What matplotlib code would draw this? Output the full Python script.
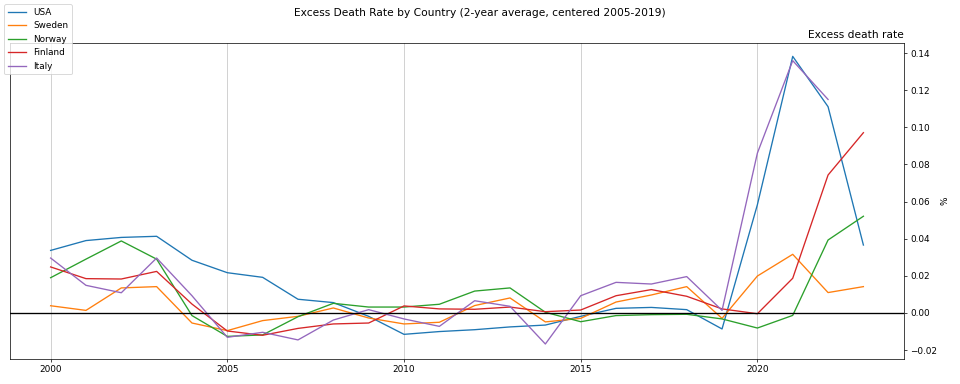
import matplotlib
matplotlib.use("Agg")
import matplotlib.pyplot as plt

years = list(range(2000, 2024))
usa = [0.0337, 0.0390, 0.0407, 0.0413, 0.0284, 0.0217, 0.0192, 0.0074, 0.0056, -0.0018,
       -0.0115, -0.0100, -0.0090, -0.0075, -0.0065, -0.0018, 0.0025, 0.0030, 0.0018, -0.0086,
       0.0583, 0.1382, 0.1111, 0.0366]
sweden = [0.0039, 0.0014, 0.0135, 0.0142, -0.0054, -0.0095, -0.0041, -0.0018, 0.0027, -0.0027,
          -0.0059, -0.0050, 0.0040, 0.0081, -0.0048, -0.0029, 0.0059, 0.0097, 0.0142, -0.0029,
          0.0199, 0.0316, 0.0110, 0.0142]
norway = [0.0190, 0.0290, 0.0388, 0.0290, -0.0014, -0.0126, -0.0118, -0.0020, 0.0052, 0.0032,
          0.0032, 0.0047, 0.0118, 0.0135, 0.0004, -0.0047, -0.0014, -0.0009, -0.0007, -0.0032,
          -0.0081, -0.0013, 0.0393, 0.0521]
finland = [0.0248, 0.0185, 0.0183, 0.0224, 0.0048, -0.0097, -0.0120, -0.0083, -0.0059, -0.0054,
           0.0038, 0.0022, 0.0020, 0.0032, 0.0007, 0.0016, 0.0093, 0.0126, 0.0090, 0.0022,
           -0.0004, 0.0187, 0.0743, 0.0971]
italy_years = list(range(2000, 2023))
italy = [0.0296, 0.0149, 0.0109, 0.0296, 0.0093, -0.0131, -0.0104, -0.0145, -0.0038, 0.0018,
         -0.0032, -0.0072, 0.0066, 0.0036, -0.0167, 0.0093, 0.0165, 0.0156, 0.0196, 0.0014,
         0.0861, 0.1359, 0.1150]

fig = plt.figure(figsize=(15, 6), dpi=64)
ax = fig.add_axes([0.0104, 0.065, 0.9313, 0.823])

ax.plot(years, usa, label="USA")
ax.plot(years, sweden, label="Sweden")
ax.plot(years, norway, label="Norway")
ax.plot(years, finland, label="Finland")
ax.plot(italy_years, italy, label="Italy")
ax.axhline(0, color="black", linewidth=1.5)

ax.set_xticks([2000, 2005, 2010, 2015, 2020])
ax.set_ylim(-0.0248, 0.1454)
ax.grid(axis="x", color="#c0c0c0")
ax.yaxis.tick_right()
ax.yaxis.set_label_position("right")
ax.set_ylabel("%")
ax.set_title("Excess death rate", loc="right")
fig.suptitle("Excess Death Rate by Country (2-year average, centered 2005-2019)", y=0.98)
fig.legend(loc="upper left", bbox_to_anchor=(0.0, 1.0))

fig.savefig("out.png", dpi=64)
